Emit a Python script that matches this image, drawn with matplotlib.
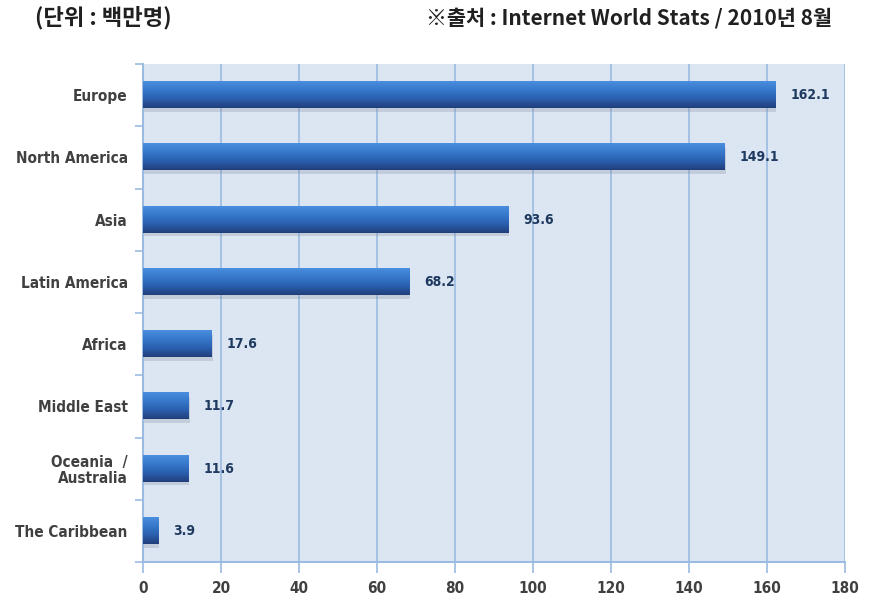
import numpy as np
import matplotlib
matplotlib.use("Agg")
import matplotlib.pyplot as plt
from matplotlib.colors import LinearSegmentedColormap

# Internet users by region (millions), Internet World Stats, Aug 2010
regions = ["Europe", "North America", "Asia", "Latin America", "Africa",
           "Middle East", "Oceania  /\nAustralia", "The Caribbean"]
users = [162.1, 149.1, 93.6, 68.2, 17.6, 11.7, 11.6, 3.9]
xticks = [0, 20, 40, 60, 80, 100, 120, 140, 160, 180]

NARROW = ["DejaVu Sans"]
KR = ["Noto Sans CJK KR", "DejaVu Sans"]
BG = "#dce6f2"
GRID = "#9bbbe2"
LABEL = "#404040"
VALUE = "#1f3a60"

bar_cmap = LinearSegmentedColormap.from_list(
    "bar", ["#4a8ee0", "#3678ca", "#2a5fae", "#213f7a"])

fig = plt.figure(figsize=(8.73, 6.02), dpi=100)
ax = fig.add_axes([0.1638, 0.0664, 0.968 - 0.1638, 0.8937 - 0.0664])
ax.set_facecolor(BG)

n = len(regions)
ys = np.arange(n)
h = 0.42
grad = np.linspace(0, 1, 64).reshape(-1, 1)

for y, v in zip(ys, users):
    # soft shadow under the bar
    ax.add_patch(plt.Rectangle((0.3, y - h / 2 + 0.06), v, h,
                               color="#7f8c9c", alpha=0.28, lw=0, zorder=2))
    ax.imshow(grad, cmap=bar_cmap, aspect="auto", zorder=3,
              extent=(0, v, y + h / 2, y - h / 2), interpolation="bilinear")
    ax.annotate(f"{v:.1f}", (v, y), xytext=(11, 0), textcoords="offset points",
                ha="left", va="center", fontsize=10, fontweight="bold",
                fontstretch="condensed", color=VALUE, family=NARROW, zorder=4)

ax.set_xlim(0, 180)
ax.set_ylim(n - 0.5, -0.5)
ax.set_xticks(xticks)
ax.set_xticklabels([str(t) for t in xticks], family=NARROW, fontsize=11,
                   fontweight="bold", fontstretch="condensed", color=LABEL)
ax.set_yticks(ys)
ax.set_yticklabels(regions, family=NARROW, fontsize=11, fontweight="bold",
                   fontstretch="condensed", color=LABEL, linespacing=1.1)
ax.set_yticks(np.arange(n + 1) - 0.5, minor=True)
ax.tick_params(axis="y", which="major", length=0, pad=11)
ax.tick_params(axis="y", which="minor", length=6, color=GRID, width=1.2)
ax.tick_params(axis="x", length=8, color=GRID, width=1.2, pad=6)
ax.xaxis.grid(True, color=GRID, lw=1.2, zorder=1)
ax.set_axisbelow(True)

for side in ("top", "right"):
    ax.spines[side].set_visible(False)
for side in ("left", "bottom"):
    ax.spines[side].set_color(GRID)
    ax.spines[side].set_linewidth(1.5)

fig.text(35 / 873, 1 - 18 / 602, "(단위 : 백만명)", family=KR, fontsize=16,
         fontweight="bold", color="#202020", va="center", ha="left")
fig.text(832 / 873, 1 - 18 / 602, "※출처 : Internet World Stats / 2010년 8월",
         family=KR, fontsize=15, fontweight="bold", color="#202020",
         va="center", ha="right")

fig.savefig("out.png", dpi=100)
